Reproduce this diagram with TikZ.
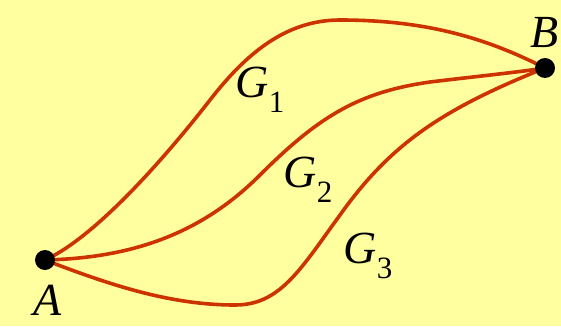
\documentclass[tikz,border=0pt]{standalone}
\usepackage{fontspec}
\setmainfont{Liberation Serif}
\usetikzlibrary{positioning}
\definecolor{paper}{HTML}{FFFFA0}
\definecolor{rust}{HTML}{CC3300}
\newcommand{\glabel}[1]{\textit{G}\raisebox{-0.32em}{\fontsize{31}{33}\selectfont #1}}

\begin{document}
\begin{tikzpicture}[
  x=1pt, y=-1pt,
  geo/.style={draw=rust, line width=3.6pt},
  dot/.style={circle, fill=black, inner sep=0pt, minimum size=20pt},
  lbl/.style={font=\fontsize{46}{50}\selectfont, inner sep=0pt}
]
\fill[paper] (0,0) rectangle (561,326);
\useasboundingbox (0,0) rectangle (561,326);
\coordinate (a) at (45,260);
\coordinate (b) at (545,68);
% the three curves from A to B
\draw[geo] (a) .. controls (100,235) and (175,145) .. (210,100)
  .. controls (245,55) and (285,20) .. (340,20)
  .. controls (430,20) and (490,40) .. (b);
\draw[geo] (a) .. controls (130,258) and (200,235) .. (260,175)
  .. controls (320,115) and (360,92) .. (430,82)
  .. controls (480,76) and (520,72) .. (b);
\draw[geo] (a) .. controls (110,285) and (170,305) .. (235,305)
  .. controls (280,305) and (300,270) .. (340,215)
  .. controls (390,145) and (440,110) .. (b);
\node[dot] (adot) at (a) {};
\node[dot] (bdot) at (b) {};
\node[lbl, below left=18pt and -24pt of adot] (alab) {\textit{A}};
\node[lbl, above=10pt of bdot] (blab) {\textit{B}};
\node[lbl] (g1) at (260,90) {\glabel{1}};
\node[lbl] (g2) at (308,180) {\glabel{2}};
\node[lbl] (g3) at (368,256) {\glabel{3}};
\end{tikzpicture}
\end{document}
